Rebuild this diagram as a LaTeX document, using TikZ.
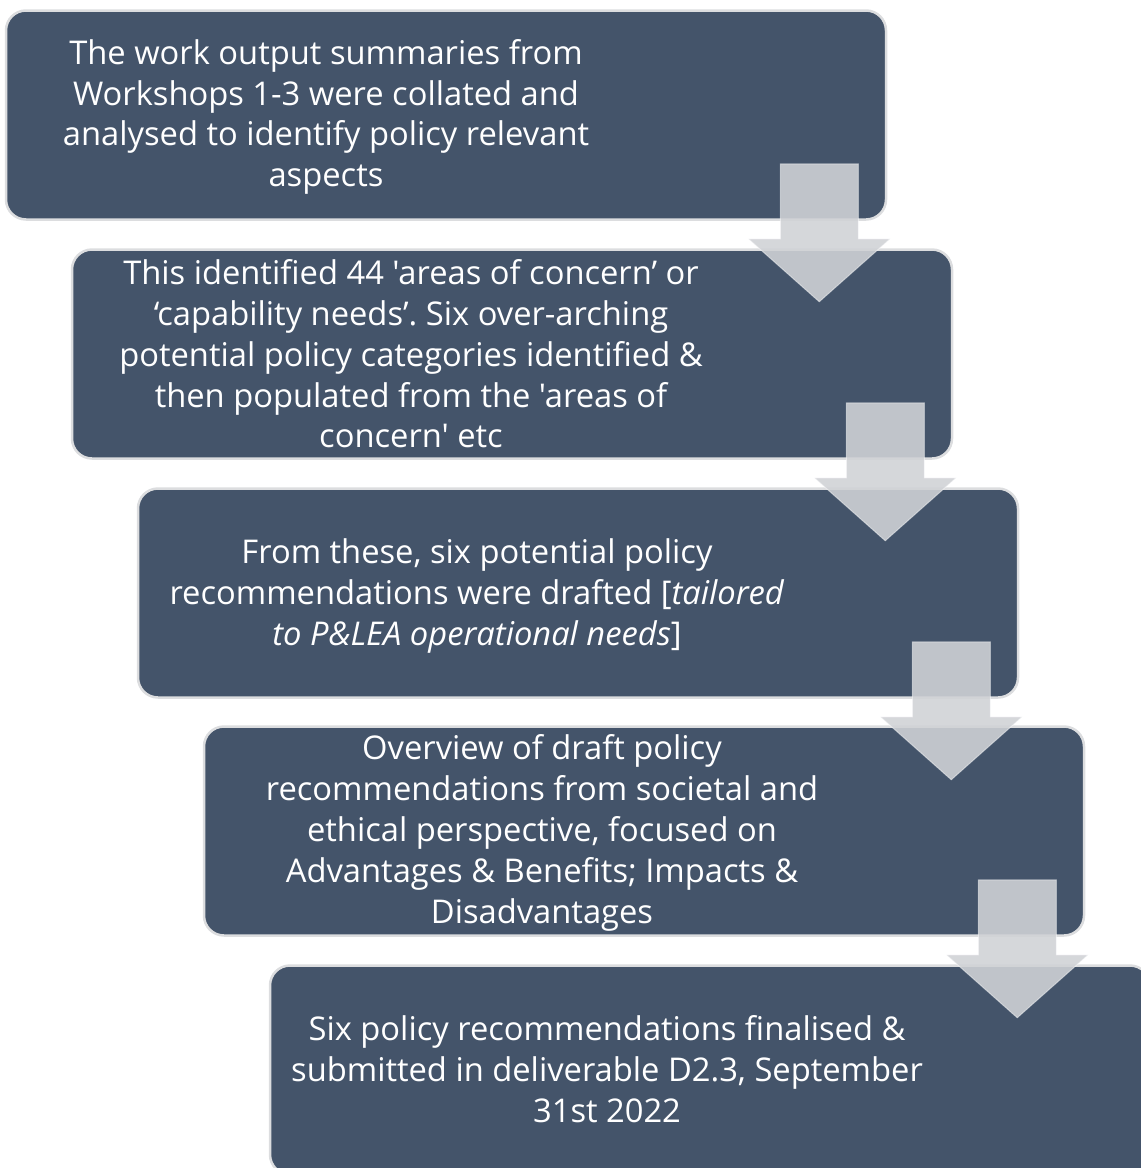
\documentclass[tikz,border=0pt]{standalone}
\usepackage{fontspec}
\setmainfont{Open Sans}[Ligatures={TeXOff,NoCommon}]
\usetikzlibrary{calc}
\definecolor{boxfill}{HTML}{44546A}
\definecolor{boxedge}{HTML}{DCDDDF}
\definecolor{arrowfill}{RGB}{208,210,214}
\tikzset{
  stagebox/.style={draw=boxedge, line width=2.5pt, fill=boxfill, rounded corners=20pt,
    minimum width=880pt, minimum height=209pt, inner sep=0pt},
  stagetext/.style={text=white, align=center, inner sep=0pt,
    font=\fontsize{32.7}{40.8}\selectfont},
  downarrow/.style={fill=arrowfill, fill opacity=0.89, draw=white, draw opacity=0.45, line width=1pt}
}
% block arrow hanging from the lower right corner of a stage box
\newcommand{\stagearrow}[1]{%
  \path[downarrow]
    ($(#1.south east)+(-107,-57)$) -- ($(#1.south east)+(-29,-57)$)
    -- ($(#1.south east)+(-29,18)$) -- ($(#1.south east)+(3,18)$)
    -- ($(#1.south east)+(-68,81)$) -- ($(#1.south east)+(-139,18)$)
    -- ($(#1.south east)+(-107,18)$) -- cycle;}
\frenchspacing
\begin{document}
\begin{tikzpicture}[x=1pt,y=-1pt]
\useasboundingbox (0,0) rectangle (1141,1168);
\clip (0,0) rectangle (1141,1168);

% stage boxes
\node[stagebox] (b1) at (446,115) {};
\node[stagebox] (b2) at (512,354) {};
\node[stagebox] (b3) at (578,593) {};
\node[stagebox] (b4) at (644,831) {};
\node[stagebox] (b5) at (710,1070) {};

% stage texts
\node[stagetext] (t1) at (326,117) {The work output summaries from\\Workshops 1-3 were collated and\\analysed to identify policy relevant\\aspects};
\node[stagetext] (t2) at (411,354) {This identified 44 'areas of concern’ or\\‘capability needs’. Six over-arching\\potential policy categories identified \&\\then populated from the 'areas of\\concern' etc};
\node[stagetext] (t3) at (477,596) {From these, six potential policy\\recommendations were drafted [\textit{tailored}\\\textit{to P\&LEA operational needs}]};
\node[stagetext] (t4) at (542,833) {Overview of draft policy\\recommendations from societal and\\ethical perspective, focused on\\Advantages \& Benefits; Impacts \&\\Disadvantages};
\node[stagetext] (t5) at (607,1069) {Six policy recommendations finalised \&\\submitted in deliverable D2.3, September\\31st 2022};

% arrows between consecutive stages
\stagearrow{b1}
\stagearrow{b2}
\stagearrow{b3}
\stagearrow{b4}
\end{tikzpicture}
\end{document}
